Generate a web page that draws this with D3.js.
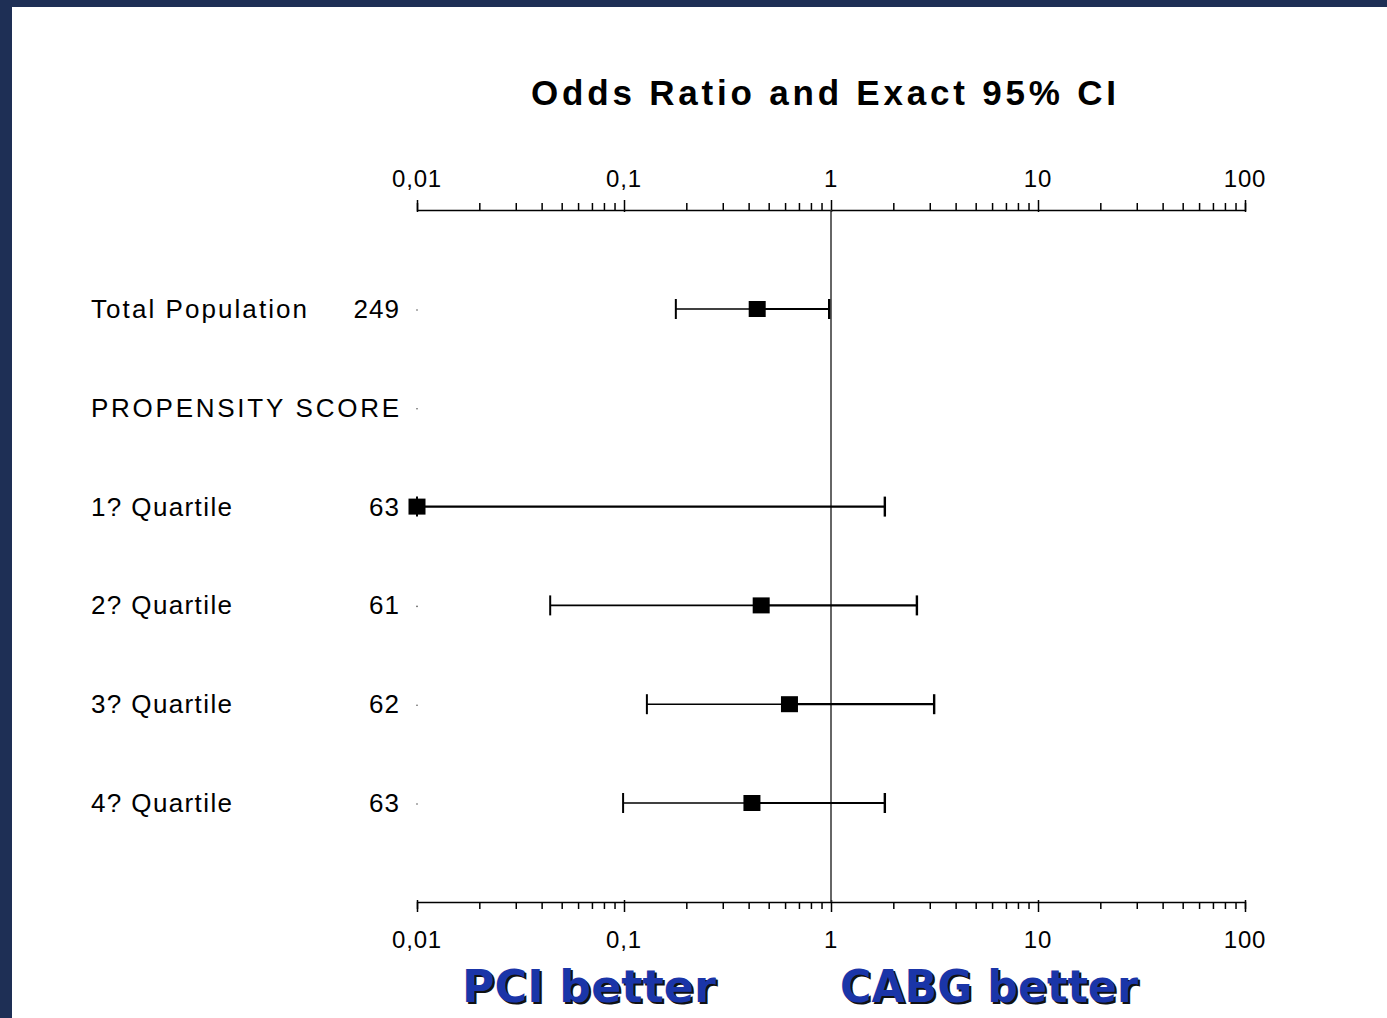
<!DOCTYPE html>
<html><head><meta charset="utf-8">
<script src="https://cdn.jsdelivr.net/npm/d3@7"></script>
<style>html,body{margin:0;padding:0;background:#fff;}svg{display:block;}</style>
</head><body>
<script>
const labels = ["Total Population","PROPENSITY SCORE","1? Quartile","2? Quartile","3? Quartile","4? Quartile"];
const counts = ["249","","63","61","62","63"];
const oddsRatio = [0.44,null,0.01,0.46,0.63,0.415];
const ciLow = [0.178,null,0.01,0.044,0.129,0.099];
const ciHigh = [0.98,null,1.82,2.6,3.15,1.82];
const tickLabels = ["0,01","0,1","1","10","100"];
const tickValues = [0.01,0.1,1,10,100];

const W=1387,H=1018;
const svg=d3.select("body").append("svg").attr("width",W).attr("height",H);
svg.append("rect").attr("width",W).attr("height",H).attr("fill","#fff");
svg.append("rect").attr("x",0).attr("y",0).attr("width",W).attr("height",7).attr("fill","#1e2f55");
svg.append("rect").attr("x",0).attr("y",0).attr("width",12).attr("height",H).attr("fill","#1e2f55");

const x=d3.scaleLog().domain([0.01,100]).range([417,1245]);
const y=d3.scalePoint().domain(d3.range(labels.length)).range([309,803]);
const topY=210, botY=902;
const font="Liberation Sans, Arial, sans-serif";

svg.append("text").attr("x",823.5).attr("y",105).attr("text-anchor","middle")
  .attr("font-family",font).attr("font-weight","bold").attr("font-size",35)
  .attr("textLength",585).attr("lengthAdjust","spacing").text("Odds Ratio and Exact 95% CI");

const minor=[];
[0.01,0.1,1,10].forEach(d=>{for(let k=1;k<10;k++)minor.push(d*k);});
minor.push(100);
const isMajor=v=>tickValues.some(t=>Math.abs(t-v)/t<1e-6);

function drawAxis(yPos, dir){
  const axis=(dir<0?d3.axisTop(x):d3.axisBottom(x)).tickValues(minor).tickFormat("").tickSizeOuter(0).tickSize(7);
  const g=svg.append("g").attr("transform",`translate(0,${yPos})`).call(axis);
  g.select(".domain").attr("stroke","#000").attr("stroke-width",1.5);
  g.selectAll(".tick line").attr("stroke","#000").attr("stroke-width",1.5)
    .attr("y2",d=>dir*(isMajor(d)?10:7));
  g.selectAll(".tick").filter(d=>isMajor(d)).select("line").attr("y1",-dir*2);
  g.selectAll(".tick text").remove();
  svg.append("g").selectAll("text").data(tickValues).join("text")
    .attr("x",d=>x(d)).attr("y",dir<0?yPos-23:yPos+46)
    .attr("text-anchor","middle").attr("font-family",font).attr("font-size",24)
    .attr("letter-spacing",0.8)
    .text((d,i)=>tickLabels[i]);
}
drawAxis(topY,-1);
drawAxis(botY,1);

svg.append("line").attr("x1",x(1)).attr("x2",x(1)).attr("y1",topY).attr("y2",botY)
  .attr("stroke","#333").attr("stroke-width",1.5);

const labelWidths=[216,308,141,141,141,141];
const rowData=labels.map((l,i)=>({l,i,n:counts[i],w:labelWidths[i]}));
const rows=svg.append("g").selectAll("g").data(rowData).join("g");
rows.append("text").attr("x",91).attr("y",d=>y(d.i)+9).attr("font-family",font).attr("font-size",26)
  .attr("textLength",d=>d.w).attr("lengthAdjust","spacing").text(d=>d.l);
rows.append("text").attr("x",400).attr("y",d=>y(d.i)+9).attr("text-anchor","end").attr("font-family",font).attr("font-size",26)
  .attr("letter-spacing",1).text(d=>d.n);
rows.append("circle").attr("cx",x(0.01)).attr("cy",d=>y(d.i)+1).attr("r",0.8).attr("fill","#555");

const idx=d3.range(labels.length).filter(i=>oddsRatio[i]!==null);
const eb=svg.append("g").selectAll("g").data(idx).join("g");
eb.append("line").attr("x1",i=>x(ciLow[i])).attr("x2",i=>x(oddsRatio[i])).attr("y1",i=>y(i)).attr("y2",i=>y(i))
  .attr("stroke","#000").attr("stroke-width",1.6);
eb.append("line").attr("x1",i=>x(oddsRatio[i])).attr("x2",i=>x(ciHigh[i])).attr("y1",i=>y(i)).attr("y2",i=>y(i))
  .attr("stroke","#000").attr("stroke-width",2.2);
eb.append("line").attr("x1",i=>x(ciLow[i])).attr("x2",i=>x(ciLow[i])).attr("y1",i=>y(i)-10).attr("y2",i=>y(i)+10)
  .attr("stroke","#000").attr("stroke-width",2);
eb.append("line").attr("x1",i=>x(ciHigh[i])).attr("x2",i=>x(ciHigh[i])).attr("y1",i=>y(i)-10).attr("y2",i=>y(i)+10)
  .attr("stroke","#000").attr("stroke-width",2.4);
eb.append("rect").attr("x",i=>x(oddsRatio[i])-8.5).attr("y",i=>y(i)-8).attr("width",17).attr("height",16)
  .attr("fill","#000");

const bottom=[{t:"PCI better",cx:589,w:254},{t:"CABG better",cx:989,w:298}];
const bf="'Comic Sans MS','DejaVu Sans',sans-serif";
[[2,2,"#111"],[0,0,"#1a35a8"]].forEach(([dx,dy,c])=>{
  svg.append("g").selectAll("text").data(bottom).join("text")
    .attr("x",d=>d.cx+dx).attr("y",1002+dy).attr("text-anchor","middle").attr("font-family",bf)
    .attr("font-weight","bold").attr("font-size",44).attr("fill",c)
    .attr("textLength",d=>d.w).attr("lengthAdjust","spacingAndGlyphs").text(d=>d.t);
});
</script>
</body></html>
